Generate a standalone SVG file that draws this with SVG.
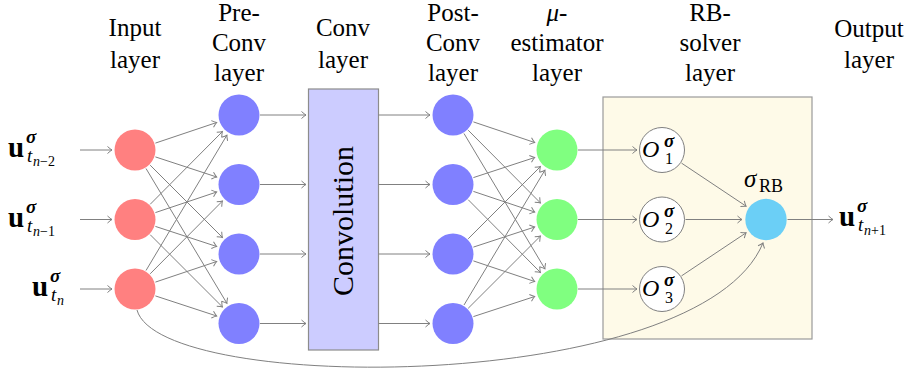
<svg xmlns="http://www.w3.org/2000/svg" width="916" height="378" viewBox="0 0 916 378">
<style>
.lbl{font-family:"Liberation Serif","DejaVu Serif",serif;font-size:25px;fill:#000;text-anchor:middle}
.m{font-family:"Liberation Serif","DejaVu Serif",serif;fill:#000}
.bu{font-size:29px;font-weight:bold}
.bs{font-size:19px;font-weight:bold;font-style:italic}
.it{font-style:italic}
.e{fill:none;stroke:#808080;stroke-width:1;marker-end:url(#ah)}
.red{fill:#ff8080}.blue{fill:#8080ff}.green{fill:#80ff80}
</style>
<defs>
<marker id="ah" viewBox="-6 -5 8 10" markerWidth="8" markerHeight="10" refX="0" refY="0" orient="auto" markerUnits="userSpaceOnUse">
<path d="M-4.5,-3.5 Q-1.5,-0.8 0,0 Q-1.5,0.8 -4.5,3.5" fill="none" stroke="#808080" stroke-width="1"/>
</marker>
</defs>
<rect width="916" height="378" fill="#fff"/>

<g id="headers">
<text class="lbl" x="135" y="36">Input</text><text class="lbl" x="135" y="68">layer</text>
<text class="lbl" x="239" y="21">Pre-</text><text class="lbl" x="239" y="51">Conv</text><text class="lbl" x="239" y="81">layer</text>
<text class="lbl" x="343" y="36">Conv</text><text class="lbl" x="343" y="68">layer</text>
<text class="lbl" x="453" y="21">Post-</text><text class="lbl" x="453" y="51">Conv</text><text class="lbl" x="453" y="81">layer</text>
<text class="lbl" x="557" y="21"><tspan font-style="italic">μ</tspan>-</text><text class="lbl" x="557" y="51">estimator</text><text class="lbl" x="557" y="81">layer</text>
<text class="lbl" x="710" y="21">RB-</text><text class="lbl" x="710" y="51">solver</text><text class="lbl" x="710" y="81">layer</text>
<text class="lbl" x="869" y="37">Output</text><text class="lbl" x="869" y="68">layer</text>
</g>

<g id="rb-solver-box">
<rect x="603" y="97" width="209" height="242" fill="#fefae8" stroke="#9a9a9a" stroke-width="1.2"/>
</g>

<g id="conv-box">
<rect x="308.5" y="89" width="70" height="261" fill="#ccccff" stroke="#8c8c8c" stroke-width="1.2"/>
<text class="m" font-size="30" text-anchor="middle" transform="translate(353,221) rotate(-90)">Convolution</text>
</g>

<g id="connectors">
<line class="e" x1="80" y1="150" x2="112" y2="150"/>
<line class="e" x1="80" y1="219.5" x2="112" y2="219.5"/>
<line class="e" x1="80" y1="289" x2="112" y2="289"/>
<line class="e" x1="155.4" y1="143.1" x2="216.7" y2="122.5"/>
<line class="e" x1="155.4" y1="156.9" x2="216.7" y2="177"/>
<line class="e" x1="150.2" y1="165.2" x2="222.4" y2="237.4"/>
<line class="e" x1="146" y1="168.5" x2="226.9" y2="303.3"/>
<line class="e" x1="150.2" y1="204.3" x2="222.4" y2="131.6"/>
<line class="e" x1="155.4" y1="212.6" x2="216.7" y2="192"/>
<line class="e" x1="155.4" y1="226.4" x2="216.7" y2="246.5"/>
<line class="e" x1="150.2" y1="234.7" x2="222.4" y2="306.9"/>
<line class="e" x1="146" y1="270.5" x2="226.9" y2="135.2"/>
<line class="e" x1="150.2" y1="273.8" x2="222.4" y2="201.1"/>
<line class="e" x1="155.4" y1="282.1" x2="216.7" y2="261.5"/>
<line class="e" x1="155.4" y1="295.9" x2="216.7" y2="316"/>
<line class="e" x1="260" y1="115" x2="306" y2="115"/>
<line class="e" x1="260" y1="184.5" x2="306" y2="184.5"/>
<line class="e" x1="260" y1="254" x2="306" y2="254"/>
<line class="e" x1="260" y1="323.5" x2="306" y2="323.5"/>
<line class="e" x1="378.5" y1="115" x2="430" y2="115"/>
<line class="e" x1="378.5" y1="184.5" x2="430" y2="184.5"/>
<line class="e" x1="378.5" y1="254" x2="430" y2="254"/>
<line class="e" x1="378.5" y1="323.5" x2="430" y2="323.5"/>
<line class="e" x1="473.4" y1="121.9" x2="534.7" y2="142.5"/>
<line class="e" x1="468.2" y1="130.2" x2="540.4" y2="202.9"/>
<line class="e" x1="464" y1="133.5" x2="544.9" y2="268.8"/>
<line class="e" x1="473.4" y1="177.6" x2="534.7" y2="157.5"/>
<line class="e" x1="473.4" y1="191.4" x2="534.7" y2="212"/>
<line class="e" x1="468.2" y1="199.7" x2="540.4" y2="272.4"/>
<line class="e" x1="468.2" y1="238.8" x2="540.4" y2="166.6"/>
<line class="e" x1="473.4" y1="247.1" x2="534.7" y2="227"/>
<line class="e" x1="473.4" y1="260.9" x2="534.7" y2="281.5"/>
<line class="e" x1="464" y1="305" x2="544.9" y2="170.2"/>
<line class="e" x1="468.2" y1="308.3" x2="540.4" y2="236.1"/>
<line class="e" x1="473.4" y1="316.6" x2="534.7" y2="296.5"/>
<line class="e" x1="578" y1="150" x2="637" y2="150"/>
<line class="e" x1="578" y1="219.5" x2="637" y2="219.5"/>
<line class="e" x1="578" y1="289" x2="637" y2="289"/>
<line class="e" x1="681.5" y1="163.1" x2="746.1" y2="206.2"/>
<line class="e" x1="685.5" y1="219.5" x2="742" y2="219.5"/>
<line class="e" x1="681.5" y1="275.9" x2="746.1" y2="232.8"/>
<line class="e" x1="787.5" y1="219.5" x2="833" y2="219.5"/>
<path class="e" d="M137,310 C160,395 700,395 763,243"/>
</g>

<g id="input-labels">
<text class="m bu" x="8" y="157">u</text><text class="m bs" x="26" y="143">σ</text><text class="m it" font-size="19" x="27" y="162">t</text><text class="m" font-size="14" x="33" y="166"><tspan class="it">n</tspan>−2</text>
<text class="m bu" x="8" y="226.5">u</text><text class="m bs" x="26" y="212.5">σ</text><text class="m it" font-size="19" x="27" y="231.5">t</text><text class="m" font-size="14" x="33" y="235.5"><tspan class="it">n</tspan>−1</text>
<text class="m bu" x="32" y="296">u</text><text class="m bs" x="50" y="282">σ</text><text class="m it" font-size="19" x="51" y="301">t</text><text class="m it" font-size="14" x="57" y="305">n</text>
</g>

<g id="input-nodes">
<circle id="in1" class="red" cx="135" cy="150" r="20.5"/>
<circle id="in2" class="red" cx="135" cy="219.5" r="20.5"/>
<circle id="in3" class="red" cx="135" cy="289" r="20.5"/>
</g>
<g id="preconv-nodes">
<circle id="pre1" class="blue" cx="239" cy="115" r="20.5"/>
<circle id="pre2" class="blue" cx="239" cy="184.5" r="20.5"/>
<circle id="pre3" class="blue" cx="239" cy="254" r="20.5"/>
<circle id="pre4" class="blue" cx="239" cy="323.5" r="20.5"/>
</g>
<g id="postconv-nodes">
<circle id="post1" class="blue" cx="453" cy="115" r="20.5"/>
<circle id="post2" class="blue" cx="453" cy="184.5" r="20.5"/>
<circle id="post3" class="blue" cx="453" cy="254" r="20.5"/>
<circle id="post4" class="blue" cx="453" cy="323.5" r="20.5"/>
</g>
<g id="mu-nodes">
<circle id="mu1" class="green" cx="557" cy="150" r="20.5"/>
<circle id="mu2" class="green" cx="557" cy="219.5" r="20.5"/>
<circle id="mu3" class="green" cx="557" cy="289" r="20.5"/>
</g>
<g id="O1">
<circle cx="662" cy="150" r="22.5" fill="#fff" stroke="#808080" stroke-width="1"/>
<text class="m it" font-size="24" x="642" y="157">O</text><text class="m bs" font-size="16" x="664" y="147">σ</text><text class="m" font-size="16" x="665" y="164">1</text>
</g>
<g id="O2">
<circle cx="662" cy="219.5" r="22.5" fill="#fff" stroke="#808080" stroke-width="1"/>
<text class="m it" font-size="24" x="642" y="226.5">O</text><text class="m bs" font-size="16" x="664" y="216.5">σ</text><text class="m" font-size="16" x="665" y="233.5">2</text>
</g>
<g id="O3">
<circle cx="662" cy="289" r="22.5" fill="#fff" stroke="#808080" stroke-width="1"/>
<text class="m it" font-size="24" x="642" y="296">O</text><text class="m bs" font-size="16" x="664" y="286">σ</text><text class="m" font-size="16" x="665" y="303">3</text>
</g>
<g id="sigmaRB">
<circle cx="766" cy="219.5" r="20.7" fill="#6bcff6"/>
<text class="m it" font-size="25" x="744" y="187">σ</text><text class="m" font-size="18" x="759" y="192">RB</text>
</g>
<g id="output-label">
<text class="m bu" x="839" y="226">u</text><text class="m bs" x="857" y="212">σ</text><text class="m it" font-size="19" x="858" y="231">t</text><text class="m" font-size="14" x="864" y="235"><tspan class="it">n</tspan>+1</text>
</g>
</svg>
